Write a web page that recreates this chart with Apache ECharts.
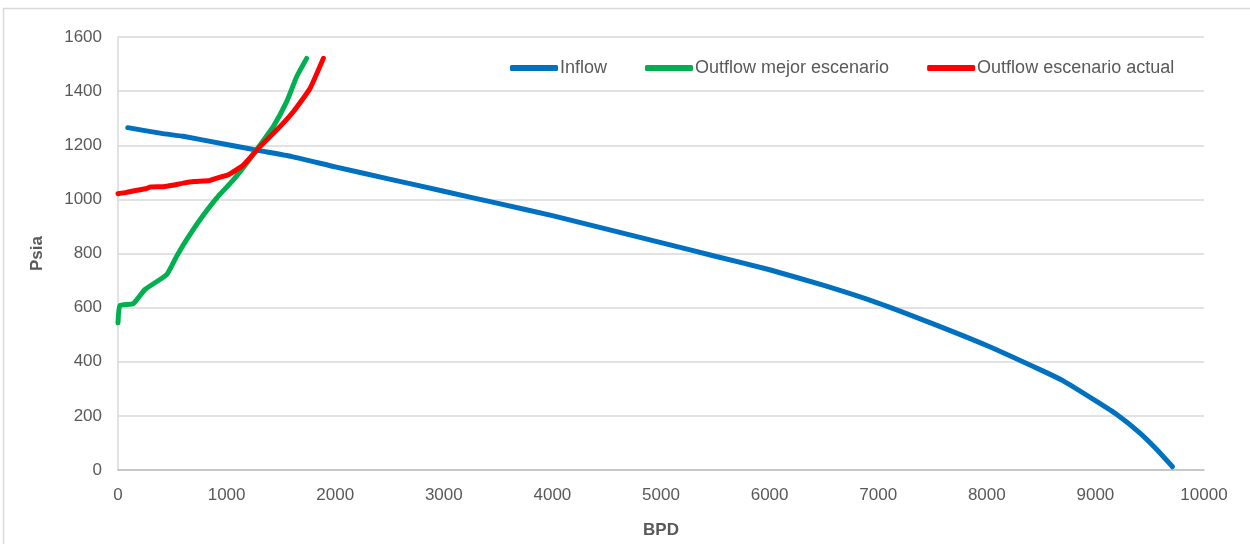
<!DOCTYPE html>
<html>
<head>
<meta charset="utf-8">
<script src="https://cdn.jsdelivr.net/npm/echarts@6/dist/echarts.min.js"></script>
<style>
  html, body { margin: 0; padding: 0; background: #ffffff; }
  #chart { width: 1250px; height: 544px; }
</style>
</head>
<body>
<div id="chart"></div>
<script>
// Curva IPR (Inflow) y curvas de desempeño de tubería (Outflow), [BPD, Psia]
const inflowBPD   = [90, 400, 600, 1000, 1300, 1600, 2000, 2500, 3000, 3500, 4000, 4500, 5000, 5500, 6000, 6500, 7000, 7500, 8000, 8500, 8700, 9000, 9200, 9400, 9550, 9710];
const inflowPsia  = [1265, 1244, 1233, 1203, 1180, 1158, 1120, 1075, 1030, 985, 940, 890, 840, 790, 740, 682, 617, 541, 460, 369, 330, 256, 204, 140, 82, 12];

const mejorBPD    = [0, 18, 141, 249, 448, 540, 632, 755, 908, 1062, 1185, 1308, 1430, 1553, 1645, 1737];
const mejorPsia   = [544, 608, 615, 667, 722, 790, 851, 925, 1005, 1072, 1134, 1201, 1269, 1361, 1453, 1521];

const actualBPD   = [0, 80, 150, 264, 300, 417, 500, 601, 700, 847, 950, 1016, 1154, 1308, 1461, 1614, 1768, 1891];
const actualPsia  = [1021, 1026, 1032, 1040, 1046, 1047, 1052, 1060, 1066, 1070, 1083, 1091, 1127, 1195, 1256, 1324, 1410, 1521];

const seriesNames = ['Inflow', 'Outflow mejor escenario', 'Outflow escenario actual'];
const seriesColors = ['#0070C0', '#00B050', '#FF0000'];

const zip = (xs, ys) => xs.map((x, i) => [x, ys[i]]);
const seriesData = [zip(inflowBPD, inflowPsia), zip(mejorBPD, mejorPsia), zip(actualBPD, actualPsia)];

const textColor = '#595959';
const font = 'Liberation Sans';
const plain = v => String(v);

const chart = echarts.init(document.getElementById('chart'), null, { renderer: 'canvas' });
chart.setOption({
  animation: false,
  backgroundColor: '#ffffff',
  graphic: [{
    type: 'rect',
    shape: { x: 3.5, y: 8.5, width: 1260, height: 560 },
    style: { fill: 'none', stroke: '#d9d9d9', lineWidth: 1.5 },
    silent: true
  }],
  grid: { left: 118, right: 46, top: 37, bottom: 73, containLabel: false },
  legend: {
    top: 54,
    left: 505,
    itemWidth: 48,
    itemHeight: 6,
    itemGap: 38,
    icon: 'roundRect',
    textStyle: { color: textColor, fontSize: 18, fontFamily: font, padding: [0, 0, 0, -3] },
    data: seriesNames
  },
  xAxis: {
    type: 'value',
    min: 0, max: 10000, interval: 1000,
    name: 'BPD',
    nameLocation: 'middle',
    nameGap: 52,
    nameTextStyle: { color: textColor, fontSize: 17, fontWeight: 'bold', fontFamily: font },
    axisLine: { show: true, lineStyle: { color: '#bfbfbf', width: 1.5 } },
    axisTick: { show: false },
    splitLine: { show: false },
    axisLabel: { color: textColor, fontSize: 17, fontFamily: font, margin: 17, formatter: plain }
  },
  yAxis: {
    type: 'value',
    min: 0, max: 1600, interval: 200,
    name: 'Psia',
    nameLocation: 'middle',
    nameGap: 72,
    nameTextStyle: { color: textColor, fontSize: 17, fontWeight: 'bold', fontFamily: font },
    axisLine: { show: true, lineStyle: { color: '#d9d9d9', width: 1.5 } },
    axisTick: { show: false },
    splitLine: { show: true, lineStyle: { color: '#d9d9d9', width: 1.5 } },
    axisLabel: { color: textColor, fontSize: 17, fontFamily: font, margin: 16, formatter: plain }
  },
  series: seriesNames.map((name, i) => ({
    name: name,
    type: 'line',
    data: seriesData[i],
    showSymbol: false,
    symbol: 'none',
    smooth: 0.15,
    color: seriesColors[i],
    lineStyle: { width: 5, color: seriesColors[i], cap: 'round', join: 'round' },
    z: 3 + i
  }))
});
</script>
</body>
</html>
